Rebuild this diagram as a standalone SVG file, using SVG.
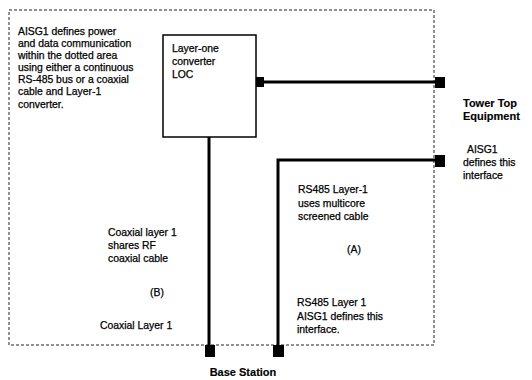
<svg xmlns="http://www.w3.org/2000/svg" width="532" height="380" viewBox="0 0 532 380">
<style>
text{font-family:"Liberation Sans",Arial,sans-serif;font-size:10.4px;fill:#000;stroke:#000;stroke-width:0.25}
.b{font-weight:bold;font-size:11px;stroke-width:0.15}
.cable{fill:none;stroke:#000;stroke-width:3}
.term{fill:#000}
.area{fill:none;stroke:#222;stroke-width:1;stroke-dasharray:3 2}
</style>
<rect width="532" height="380" fill="#fff"/>
<g id="area">
<rect class="area" x="9" y="10" width="425" height="335"/>
</g>
<g id="note">
<text x="18" y="35">AISG1 defines power</text>
<text x="18" y="47">and data communication</text>
<text x="18" y="59">within the dotted area</text>
<text x="18" y="71">using either a continuous</text>
<text x="18" y="83">RS-485 bus or a coaxial</text>
<text x="18" y="95">cable and Layer-1</text>
<text x="18" y="108">converter.</text>
</g>
<g id="loc">
<rect x="163" y="35" width="93" height="102" fill="#fff" stroke="#000" stroke-width="1.5"/>
<text x="172" y="52">Layer-one</text>
<text x="172" y="65">converter</text>
<text x="172" y="78">LOC</text>
</g>
<g id="connectors">
<path class="cable" d="M256 82H435"/>
<path class="cable" d="M209 137V347"/>
<path class="cable" d="M278 347V160H435"/>
<rect class="term" x="256" y="77" width="8" height="10"/>
<rect class="term" x="435" y="77" width="10" height="11"/>
<rect class="term" x="435" y="155" width="10" height="12"/>
<rect class="term" x="205" y="345" width="10" height="12"/>
<rect class="term" x="273" y="345" width="11" height="12"/>
</g>
<g id="tower-top">
<text class="b" x="463" y="107">Tower Top</text>
<text class="b" x="463" y="120">Equipment</text>
<text x="467" y="153">AISG1</text>
<text x="463" y="166">defines this</text>
<text x="463" y="179">interface</text>
</g>
<g id="coax">
<text x="108" y="236">Coaxial layer 1</text>
<text x="108" y="249">shares RF</text>
<text x="108" y="262">coaxial cable</text>
<text x="157" y="296" text-anchor="middle">(B)</text>
<text x="100" y="329">Coaxial Layer 1</text>
</g>
<g id="rs485">
<text x="298" y="193">RS485 Layer-1</text>
<text x="298" y="207">uses multicore</text>
<text x="298" y="220">screened cable</text>
<text x="354" y="253" text-anchor="middle">(A)</text>
<text x="297" y="306">RS485 Layer 1</text>
<text x="297" y="320">AISG1 defines this</text>
<text x="297" y="333">interface.</text>
</g>
<g id="base-station">
<text class="b" x="243" y="376" text-anchor="middle">Base Station</text>
</g>
</svg>
